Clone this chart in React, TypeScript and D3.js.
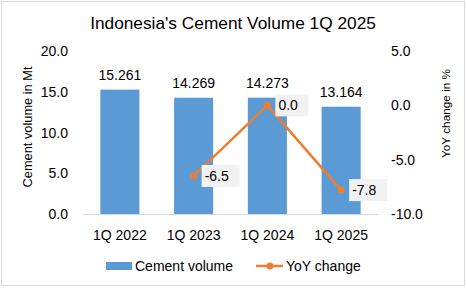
import React from "react";
import * as d3 from "d3";

const categories = ["1Q 2022", "1Q 2023", "1Q 2024", "1Q 2025"];
const volumes = [15.261, 14.269, 14.273, 13.164];
const yoyCats = ["1Q 2023", "1Q 2024", "1Q 2025"];
const yoy = [-6.5, 0.0, -7.8];
const leftTicks = [0, 5, 10, 15, 20];
const rightTicks = [-10, -5, 0, 5];

const W = 466, H = 288;
const FONT = "'Liberation Sans', Arial, sans-serif";
const BLUE = "#5b9bd5";
const ORANGE = "#ed7d31";
const TXT = "#000000";
const FS = 14;

export default function App() {
  const x = d3.scaleBand<string>().domain(categories).range([83, 378]).paddingInner(0.47).paddingOuter(0.235);
  const yL = d3.scaleLinear().domain([0, 20]).range([214, 51]);
  const yR = d3.scaleLinear().domain([-10, 5]).range([214, 51]);
  const cx = (c: string) => (x(c) as number) + x.bandwidth() / 2;
  const line = d3.line<number>().x((_, i) => cx(yoyCats[i])).y((d) => yR(d));

  return (
    <svg width={W} height={H} style={{ position: "absolute", left: 0, top: 0 }} fontFamily={FONT}>
      <rect x={0} y={0} width={W} height={H} fill="#fff" />
      <rect x={1.5} y={1.5} width={W - 3} height={H - 4} fill="none" stroke="#d9d9d9" />
      <text x={233} y={29} textAnchor="middle" fontSize={17.3} fill={TXT}>Indonesia's Cement Volume 1Q 2025</text>

      {leftTicks.map((t) => (
        <text key={"l" + t} x={68} y={yL(t) + 5} textAnchor="end" fontSize={FS} fill={TXT}>{t.toFixed(1)}</text>
      ))}
      {rightTicks.map((t) => (
        <text key={"r" + t} x={391} y={yR(t) + 5} textAnchor="start" fontSize={FS} fill={TXT}>{t.toFixed(1)}</text>
      ))}

      <text transform={`translate(31.5,127) rotate(-90)`} textAnchor="middle" fontSize={12.8} fill={TXT}>Cement volume in Mt</text>
      <text transform={`translate(449.5,113.5) rotate(-90)`} textAnchor="middle" fontSize={11.8} fill={TXT}>YoY change in %</text>

      {categories.map((c, i) => (
        <rect key={c} x={x(c)} y={yL(volumes[i])} width={x.bandwidth()} height={yL(0) - yL(volumes[i])} fill={BLUE} />
      ))}
      <line x1={83} x2={378} y1={214.5} y2={214.5} stroke="#d9d9d9" />

      {categories.map((c, i) => (
        <text key={"v" + c} x={cx(c)} y={yL(volumes[i]) - 10} textAnchor="middle" fontSize={FS} fill={TXT}>{volumes[i].toFixed(3)}</text>
      ))}
      {categories.map((c) => (
        <text key={"c" + c} x={cx(c)} y={240} textAnchor="middle" fontSize={FS} fill={TXT}>{c}</text>
      ))}

      <path d={line(yoy) as string} fill="none" stroke={ORANGE} strokeWidth={2.5} strokeLinejoin="round" />
      {yoy.map((v, i) => (
        <circle key={"p" + i} cx={cx(yoyCats[i])} cy={yR(v)} r={3.5} fill={ORANGE} />
      ))}
      {yoy.map((v, i) => {
        const px = cx(yoyCats[i]) + 8;
        const py = yR(v);
        const label = v.toFixed(1);
        const w = (label.startsWith("-") ? 32 : 27) + 6;
        return (
          <g key={"lb" + i}>
            <rect x={px} y={py - 11} width={w} height={22} fill="#f2f2f2" />
            <text x={px + 3} y={py + 5} fontSize={FS} fill={TXT}>{label}</text>
          </g>
        );
      })}

      <rect x={106} y={262} width={26} height={8} fill={BLUE} />
      <text x={135} y={270.5} fontSize={FS} fill={TXT}>Cement volume</text>
      <line x1={256} x2={283} y1={266} y2={266} stroke={ORANGE} strokeWidth={2.5} />
      <circle cx={270} cy={266} r={3.5} fill={ORANGE} />
      <text x={286} y={270.5} fontSize={FS} fill={TXT}>YoY change</text>
    </svg>
  );
}
